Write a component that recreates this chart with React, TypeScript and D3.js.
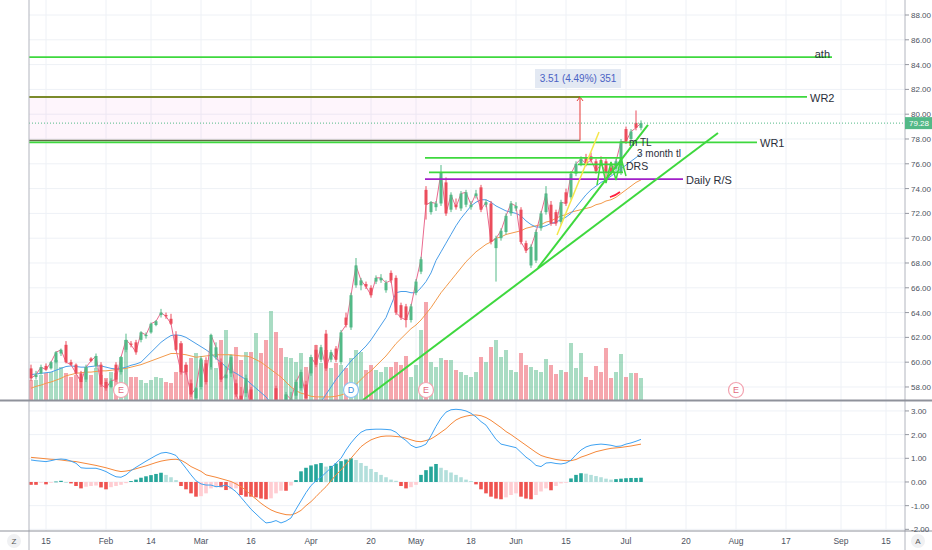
import * as d3 from "d3";

// daily bars, Jan 10 -> Jul 8 (index 0 = first visible bar)
const opens = [
  59.5, 58.8, 59.1, 59.7, 59.5, 60.0, 60.7, 61.4, 60.0, 59.8,
  59.1, 58.6, 60.3, 59.7, 59.8, 58.4, 58.0, 59.8, 59.2, 61.0,
  61.5, 61.6, 61.8, 62.1, 62.4, 63.0, 63.8, 63.8, 63.5, 62.2,
  61.5, 59.8, 58.3, 57.1, 58.0, 59.9, 59.6, 60.4, 60.0, 58.7,
  59.1, 58.3, 57.3, 57.5, 57.8, 55.5, 56.0, 53.5, 52.8, 57.9,
  55.5, 54.3, 56.5, 57.3, 57.9, 58.2, 59.1, 61.0, 60.2, 62.3,
  60.2, 61.1, 60.0, 63.6, 62.8, 66.2, 66.2, 66.3, 66.0, 66.5,
  66.6, 65.8, 67.2, 66.8, 64.6, 64.5, 63.4, 65.6, 67.3, 73.9,
  72.1, 72.5, 72.8, 74.5, 72.3, 72.7, 72.4, 72.7, 72.5, 73.4,
  74.1, 72.7, 72.8, 69.2, 70.0, 70.5, 72.0, 72.4, 72.3, 69.6,
  67.8, 68.2, 70.8, 72.1, 72.7, 72.1, 71.3, 73.7, 73.3, 75.2,
  76.0, 76.5, 76.6, 76.2, 76.3, 76.2, 75.7, 75.6, 75.3, 78.8,
  78.0, 79.3, 78.9,
];
const highs = [
  59.8, 59.3, 59.8, 59.9, 60.1, 60.9, 61.1, 61.7, 60.2, 59.9,
  59.3, 59.8, 60.4, 60.7, 60.0, 58.6, 58.7, 60.0, 60.5, 62.3,
  61.7, 61.8, 62.5, 62.4, 63.2, 63.4, 64.3, 64.0, 63.9, 62.5,
  61.7, 60.0, 58.6, 58.0, 60.5, 60.4, 62.3, 61.6, 60.3, 59.7,
  60.6, 58.6, 58.0, 59.0, 58.0, 56.8, 56.3, 54.5, 55.5, 58.1,
  56.0, 57.6, 57.6, 58.6, 59.4, 58.5, 60.6, 61.4, 61.4, 62.6,
  61.0, 61.3, 62.6, 64.0, 65.6, 68.4, 66.8, 66.5, 66.2, 67.0,
  67.1, 66.6, 67.4, 67.0, 64.8, 64.7, 64.7, 66.7, 68.5, 74.2,
  73.0, 73.0, 75.9, 74.9, 73.7, 73.2, 73.8, 73.9, 73.0, 73.9,
  74.3, 73.1, 73.0, 70.2, 70.8, 72.0, 73.0, 72.9, 72.5, 69.8,
  69.5, 70.7, 72.2, 74.2, 73.0, 72.3, 73.1, 74.0, 75.4, 76.2,
  76.6, 76.8, 76.9, 76.4, 76.6, 76.4, 75.9, 76.4, 78.0, 79.0,
  78.8, 80.3, 79.5,
];
const lows = [
  58.5, 58.6, 59.0, 59.3, 59.4, 59.9, 60.5, 59.9, 59.7, 59.0,
  57.9, 58.4, 60.0, 59.5, 58.0, 57.7, 57.9, 58.4, 59.0, 60.8,
  61.2, 60.6, 61.6, 61.9, 62.3, 62.9, 63.6, 63.5, 63.0, 60.9,
  59.0, 59.0, 57.2, 56.6, 57.8, 58.2, 59.4, 60.2, 58.4, 57.8,
  58.8, 57.2, 56.2, 57.2, 55.5, 54.5, 53.5, 52.0, 52.3, 55.0,
  53.8, 54.0, 55.8, 57.0, 57.7, 57.0, 58.9, 59.6, 60.0, 59.3,
  60.0, 60.0, 59.8, 62.8, 62.6, 66.0, 65.8, 65.9, 65.2, 66.3,
  66.4, 65.6, 66.4, 63.8, 63.4, 62.8, 63.2, 65.4, 67.1, 71.5,
  71.9, 72.2, 72.6, 71.8, 72.1, 72.3, 72.2, 72.5, 72.3, 73.2,
  72.1, 72.5, 69.5, 66.5, 69.8, 70.3, 71.8, 72.2, 69.5, 68.8,
  67.6, 68.0, 70.6, 71.9, 71.0, 71.0, 71.1, 72.6, 73.1, 75.0,
  75.8, 75.8, 76.1, 75.2, 75.8, 74.8, 75.1, 75.4, 75.1, 77.6,
  77.8, 78.7, 78.7,
];
const closes = [
  58.7, 59.0, 59.6, 59.4, 60.0, 60.8, 61.0, 60.0, 59.8, 59.1,
  58.4, 59.6, 60.1, 60.5, 58.2, 57.9, 58.5, 58.6, 60.4, 61.8,
  61.4, 60.8, 62.4, 62.2, 63.1, 63.3, 64.0, 63.7, 63.1, 61.0,
  59.2, 59.2, 57.4, 57.9, 60.3, 58.4, 62.2, 61.2, 58.6, 59.0,
  60.4, 57.4, 56.5, 58.7, 55.8, 56.5, 53.8, 52.5, 55.2, 55.3,
  54.2, 57.4, 57.0, 58.4, 59.2, 57.1, 60.4, 59.8, 61.2, 59.5,
  60.8, 60.2, 62.4, 63.0, 65.4, 67.8, 66.6, 66.1, 65.4, 66.8,
  66.8, 66.4, 66.6, 64.0, 63.6, 63.4, 64.5, 66.5, 68.3, 72.7,
  72.9, 72.8, 75.3, 72.0, 73.5, 72.5, 73.6, 73.7, 72.7, 73.6,
  72.3, 72.9, 69.7, 70.0, 70.6, 71.8, 72.8, 72.6, 69.7, 69.0,
  69.3, 70.5, 72.0, 73.6, 71.2, 71.2, 72.9, 72.8, 75.2, 76.0,
  76.4, 76.0, 76.3, 75.4, 76.0, 75.3, 75.3, 76.2, 77.8, 77.8,
  78.6, 78.9, 79.28,
];
// volume, millions
const volumes = [
  2.0, 2.0, 2.5, 2.7, 2.8, 4.0, 3.3, 2.7, 2.3, 2.5,
  2.3, 3.3, 2.5, 3.2, 2.5, 2.2, 2.8, 2.7, 4.3, 6.0,
  2.3, 2.3, 2.0, 1.7, 2.0, 2.3, 2.2, 1.8, 1.7, 2.8,
  5.7, 3.5, 4.2, 4.7, 4.0, 4.0, 3.3, 3.2, 6.0, 7.0,
  4.5, 5.3, 4.0, 4.8, 4.8, 6.7, 4.7, 6.0, 8.9, 6.8,
  5.2, 4.3, 4.2, 3.8, 4.7, 3.3, 4.3, 5.5, 3.7, 5.0,
  3.2, 3.7, 3.5, 3.2, 4.2, 5.0, 4.8, 3.0, 3.5, 3.0,
  2.8, 3.3, 3.3, 3.8, 3.5, 4.4, 2.3, 3.5, 7.0, 9.8,
  3.8, 3.3, 4.2, 4.0, 4.0, 3.0, 2.8, 2.5, 2.3, 2.8,
  4.3, 3.8, 5.3, 6.0, 4.3, 5.0, 3.0, 2.8, 4.7, 3.5,
  3.3, 3.0, 2.8, 4.1, 3.5, 2.6, 3.0, 2.8, 5.7, 3.2,
  4.7, 2.3, 2.0, 3.4, 2.8, 5.2, 2.2, 2.8, 4.6, 2.3,
  2.7, 2.7, 2.2,
];
// moving averages
const fastMa = [
  59.0, 59.05, 59.1, 59.15, 59.2, 59.35, 59.5, 59.65, 59.7, 59.65,
  59.6, 59.6, 59.65, 59.7, 59.7, 59.6, 59.5, 59.45, 59.5, 59.6,
  59.75, 59.85, 60.0, 60.4, 60.8, 61.2, 61.6, 61.9, 62.15, 62.2,
  62.15, 62.0, 61.75, 61.5, 61.25, 61.0, 60.7, 60.3, 60.0, 59.6,
  59.3, 59.1, 58.85, 58.6, 58.25, 57.9, 57.55, 57.2, 56.7, 56.2,
  55.8, 55.4, 55.2, 55.1, 55.2, 55.4, 55.8, 56.3, 56.8, 57.4,
  58.0, 58.6, 59.1, 59.6, 60.1, 60.5, 60.9, 61.3, 61.8, 62.4,
  63.0, 63.6, 64.6, 65.6, 65.7, 65.7, 65.6, 65.6, 66.0, 66.5,
  67.2, 68.2, 68.9, 69.6, 70.3, 71.0, 71.6, 72.1, 72.6, 72.9,
  73.1, 73.1, 72.9, 72.6, 72.4, 72.2, 72.1, 72.0, 71.8, 71.4,
  71.1, 70.9, 70.9, 71.0, 71.2, 71.3, 71.5, 71.7, 72.0, 72.5,
  73.0, 73.5, 73.9, 74.2, 74.5, 74.7, 75.0, 75.3, 75.6, 75.9,
  76.2, 76.5, 76.8,
];
const slowMa = [
  57.9, 58.05, 58.15, 58.3, 58.4, 58.55, 58.7, 58.9, 59.0, 59.1,
  59.15, 59.2, 59.2, 59.25, 59.3, 59.3, 59.35, 59.4, 59.45, 59.5,
  59.6, 59.7, 59.8, 59.95, 60.1, 60.25, 60.4, 60.55, 60.7, 60.7,
  60.65, 60.6, 60.5, 60.4, 60.45, 60.5, 60.55, 60.6, 60.6, 60.6,
  60.6, 60.55, 60.5, 60.5, 60.4, 60.2, 60.0, 59.7, 59.4, 59.1,
  58.8, 58.4, 58.0, 57.7, 57.5, 57.4, 57.25, 57.2, 57.2, 57.2,
  57.2, 57.25, 57.35, 57.5, 57.8, 58.2, 58.6, 59.0, 59.3, 59.7,
  60.1, 60.5, 61.0, 61.5, 61.9, 62.3, 62.7, 63.0, 63.4, 63.9,
  64.4, 65.0, 65.6, 66.1, 66.6, 67.1, 67.6, 68.1, 68.5, 68.9,
  69.2, 69.5, 69.7, 70.0, 70.1, 70.3, 70.4, 70.5, 70.6, 70.8,
  70.9, 71.0, 71.1, 71.3, 71.4, 71.6, 71.8, 71.9, 72.1, 72.2,
  72.3, 72.4, 72.5, 72.7, 72.8, 73.0, 73.1, 73.3, 73.6, 73.9,
  74.2, 74.5, 74.7,
];
// MACD pane
const macdLine = [
  0.93, 0.9, 0.88, 0.86, 0.9, 0.95, 0.97, 0.95, 0.88, 0.79,
  0.6, 0.58, 0.58, 0.58, 0.52, 0.44, 0.32, 0.22, 0.2, 0.3,
  0.48, 0.62, 0.75, 0.88, 1.0, 1.12, 1.22, 1.25, 1.2, 1.12,
  0.85, 0.58, 0.3, 0.05, -0.08, -0.13, -0.13, -0.2, -0.18, -0.13,
  -0.25, -0.41, -0.65, -0.9, -1.15, -1.35, -1.55, -1.73, -1.7, -1.63,
  -1.73, -1.65, -1.52, -1.15, -0.8, -0.45, -0.15, 0.05, 0.2, 0.4,
  0.6, 0.8, 1.0, 1.35, 1.65, 1.9, 2.1, 2.2, 2.22, 2.23,
  2.23, 2.22, 2.2, 2.1, 1.9, 1.75, 1.55, 1.45, 1.5, 1.6,
  1.95, 2.35, 2.7, 2.95, 3.05, 3.07, 3.05, 3.0, 2.9, 2.75,
  2.55, 2.4, 2.1, 1.8, 1.6, 1.55, 1.5, 1.45, 1.25, 1.05,
  0.9, 0.7, 0.65, 0.8, 0.82, 0.78, 0.76, 0.8, 0.92, 1.15,
  1.35, 1.48, 1.55, 1.58, 1.6, 1.58, 1.55, 1.5, 1.52, 1.6,
  1.65, 1.72, 1.8,
];
const signalLine = [
  1.04, 1.02, 1.0, 0.98, 0.96, 0.95, 0.93, 0.9, 0.88, 0.86,
  0.82, 0.78, 0.74, 0.7, 0.65, 0.6, 0.54, 0.48, 0.44, 0.46,
  0.5, 0.56, 0.62, 0.68, 0.75, 0.82, 0.88, 0.92, 0.95, 0.96,
  0.92, 0.8, 0.65, 0.55, 0.45, 0.3, 0.25, 0.2, 0.14, 0.08,
  0.02, -0.08, -0.2, -0.35, -0.55, -0.72, -0.9, -1.05, -1.18, -1.27,
  -1.33, -1.38, -1.39, -1.32, -1.2, -1.0, -0.83, -0.62, -0.4, -0.2,
  0.05, 0.3, 0.51, 0.75, 1.0, 1.25, 1.49, 1.65, 1.78, 1.86,
  1.92, 1.94, 1.94, 1.92, 1.9, 1.85, 1.78, 1.72, 1.7, 1.75,
  1.82, 1.95, 2.1, 2.25, 2.45, 2.62, 2.72, 2.78, 2.82, 2.83,
  2.8, 2.72, 2.6, 2.45, 2.3, 2.13, 2.0, 1.85, 1.7, 1.55,
  1.4, 1.25, 1.12, 1.05, 1.0, 0.95, 0.92, 0.9, 0.9, 0.95,
  1.05, 1.12, 1.2, 1.28, 1.33, 1.38, 1.42, 1.44, 1.46, 1.49,
  1.52, 1.56, 1.6,
];
const macdHist = [
  -0.12, -0.12, -0.03, -0.1, -0.02, 0.02, 0.05, 0.0, -0.06, -0.17,
  -0.27, -0.2, -0.17, -0.15, -0.23, -0.31, -0.22, -0.17, -0.12, -0.05,
  0.04, 0.1, 0.18, 0.24, 0.29, 0.34, 0.39, 0.3, 0.2, 0.08,
  -0.17, -0.31, -0.48, -0.62, -0.6, -0.48, -0.27, -0.22, -0.22, -0.34,
  -0.3, -0.27, -0.55, -0.62, -0.62, -0.65, -0.7, -0.73, -0.69, -0.48,
  -0.37, -0.37, -0.15, 0.08, 0.45, 0.6, 0.7, 0.75, 0.8, 0.65,
  0.68, 0.78, 0.88, 0.95, 1.0, 0.93, 0.8, 0.68, 0.55, 0.42,
  0.3, 0.2, 0.1, 0.05, -0.17, -0.27, -0.22, -0.12, 0.3, 0.5,
  0.65, 0.76, 0.6, 0.5, 0.4, 0.3, 0.2, 0.1, 0.04, -0.1,
  -0.31, -0.48, -0.62, -0.7, -0.73, -0.65, -0.55, -0.48, -0.62, -0.7,
  -0.73, -0.55, -0.4, -0.27, -0.35, -0.17, -0.06, -0.03, 0.15, 0.3,
  0.37, 0.35, 0.3, 0.25, 0.2, 0.14, 0.1, 0.12, 0.14, 0.16,
  0.17, 0.17, 0.18,
];

const timeTickIdx = [3, 15, 24, 34, 44, 56, 68, 77, 88, 97, 107, 119, 131, 141, 151, 162, 171];
const timeTickLabels = ["15", "Feb", "14", "Mar", "16", "Apr", "20", "May", "18", "Jun", "15", "Jul", "20", "Aug", "17", "Sep", "15"];
const priceTicks = [58, 60, 62, 64, 66, 68, 70, 72, 74, 76, 78, 80, 82, 84, 86, 88];
const macdTicks = [3, 2, 1, 0, -1, -2];

// user drawings: horizontal levels (bar index range, price)
const levelNames = ["ath", "WR2", "WR1", "", "", "Daily R/S", "DRS"];
const levelPrices = [84.6, 81.39, 77.72, 76.47, 75.3, 74.77, 75.95];
const levelFrom = [-2, 109.8, -2, 78.8, 79.6, 78.8, 109.4];
const levelTo = [160.2, 155.2, 145.2, 118.2, 118.4, 130.4, 118.4];
const levelKind = ["green", "green", "green", "green", "green", "purple", "green"];

// trend lines: start / end (bar index, price)
const trendFromIdx = [66.4, 101.4, 105.2];
const trendFromPrice = [56.95, 67.6, 70.26];
const trendToIdx = [137.4, 123.4, 113.6];
const trendToPrice = [78.48, 79.13, 78.56];
const trendKind = ["green", "green", "yellow"];

// small flag zigzag near the July breakout
const flagIdx = [113.2, 114, 115, 116, 117, 118, 119];
const flagPrice = [74.29, 76.31, 74.45, 76.15, 74.69, 76.47, 75.02];
const arcIdx = [115.8, 116.8, 117.8];
const arcPrice = [73.32, 73.45, 73.73];

// price range measure
const rangeIdx = 109.8;
const rangeTop = 81.39;
const rangeBottom = 77.88;
const rangeText = "3.51 (4.49%) 351";
const lastPrice = 79.28;

const noteTexts = ["m TL", "3 month tl"];
const noteIdx = [119.6, 121.2];
const notePrice = [77.42, 76.55];

const eventIdx = [18, 64, 79, 141];
const eventKind = ["E", "D", "E", "E"];

const UP = "#53b987";
const DOWN = "#eb4d5c";
const LEVEL_COLORS: Record<string, string> = { green: "#3ed83e", purple: "#a11fc9", yellow: "#f4e64a" };
const FONT = "'Liberation Sans', Arial, sans-serif";

export default function App() {
  const W = 932;
  const H = 550;
  const left = 29;
  const right = 905;
  const mainBottom = 400;
  const macdTop = 401;
  const macdBottom = 531;

  const x = d3.scaleLinear().domain([0, 174.8]).range([31, right]);
  const yP = d3.scaleLinear().domain([56.95, 89.21]).range([mainBottom, 0]);
  const yV = d3.scaleLinear().domain([0, 10]).range([mainBottom, 300]);
  const yM = d3.scaleLinear().domain([-2.07, 3.42]).range([macdBottom, macdTop]);

  const priceLine = d3.line<number>().x((_, i) => x(i)).y((v) => yP(v));
  const macdPath = d3.line<number>().x((_, i) => x(i)).y((v) => yM(v));
  const flagPath = d3.line<number>().x((_, i) => x(flagIdx[i])).y((v) => yP(v));
  const arcPath = d3
    .line<number>()
    .x((_, i) => x(arcIdx[i]))
    .y((v) => yP(v))
    .curve(d3.curveBasis);

  const bodyW = 3;
  const volW = 4;

  const histColor = (v: number, i: number) => {
    const prev = i > 0 ? macdHist[i - 1] : 0;
    if (v >= 0) return v >= prev ? "#26a69a" : "#b2dfdb";
    return v <= prev ? "#ef5350" : "#ffcdd2";
  };

  const rx = x(rangeIdx);

  return (
    <div style={{ position: "absolute", left: 0, top: 0 }}>
      <svg width={W} height={H} style={{ display: "block", background: "#fff", fontFamily: FONT }}>
        <defs>
          <clipPath id="mainClip">
            <rect x={left} y={0} width={right - left} height={mainBottom} />
          </clipPath>
          <clipPath id="macdClip">
            <rect x={left} y={macdTop} width={right - left} height={macdBottom - macdTop} />
          </clipPath>
        </defs>

        {/* grid */}
        <g stroke="#eef1f6" strokeWidth={1}>
          {timeTickIdx.map((t, i) => (
            <line key={"vg" + i} x1={x(t)} x2={x(t)} y1={0} y2={macdBottom} />
          ))}
          {priceTicks.map((p) => (
            <line key={"hg" + p} x1={left} x2={right} y1={yP(p)} y2={yP(p)} />
          ))}
          {macdTicks.map((m) => (
            <line key={"mg" + m} x1={left} x2={right} y1={yM(m)} y2={yM(m)} />
          ))}
        </g>

        {/* main pane */}
        <g clipPath="url(#mainClip)">
          {volumes.map((v, i) => (
            <rect
              key={"v" + i}
              x={x(i) - volW / 2}
              y={yV(v)}
              width={volW}
              height={mainBottom - yV(v)}
              fill={closes[i] >= opens[i] ? UP : DOWN}
              opacity={0.5}
            />
          ))}

          {/* price range box */}
          <rect
            x={left - 5}
            y={yP(rangeTop)}
            width={rx - left + 5}
            height={yP(rangeBottom) - yP(rangeTop)}
            fill="#f050c8"
            opacity={0.06}
          />

          <path d={priceLine(slowMa) ?? ""} fill="none" stroke="#f39a4b" strokeWidth={1} />
          <path d={priceLine(fastMa) ?? ""} fill="none" stroke="#4a9ee8" strokeWidth={1} />
          <path d={priceLine(closes) ?? ""} fill="none" stroke="#ea6a8f" strokeWidth={1} />

          {closes.map((c, i) => {
            const o = opens[i];
            const col = c >= o ? UP : DOWN;
            const top = yP(Math.max(o, c));
            const h = Math.max(1, Math.abs(yP(o) - yP(c)));
            return (
              <g key={"c" + i}>
                <line x1={x(i)} x2={x(i)} y1={yP(highs[i])} y2={yP(lows[i])} stroke={col} strokeWidth={1} />
                <rect x={x(i) - bodyW / 2} y={top} width={bodyW} height={h} fill={col} />
              </g>
            );
          })}

          {/* last price line */}
          <line
            x1={left}
            x2={right}
            y1={yP(lastPrice)}
            y2={yP(lastPrice)}
            stroke={UP}
            strokeWidth={1}
            strokeDasharray="1,2"
          />

          {/* range box edges and measure */}
          <line x1={left} x2={rx} y1={yP(rangeTop)} y2={yP(rangeTop)} stroke="#7b8a2a" strokeWidth={2} />
          <line x1={left} x2={rx} y1={yP(rangeBottom)} y2={yP(rangeBottom)} stroke="#5f6b44" strokeWidth={1.5} />
          <line x1={rx} x2={rx} y1={yP(rangeBottom)} y2={yP(rangeTop)} stroke="#e53935" strokeWidth={1} />
          <path
            d={`M${rx - 3},${yP(rangeTop) + 4}L${rx},${yP(rangeTop)}L${rx + 3},${yP(rangeTop) + 4}`}
            fill="none"
            stroke="#e53935"
            strokeWidth={1}
          />

          {/* horizontal levels */}
          {levelPrices.map((p, i) => (
            <line
              key={"lv" + i}
              x1={x(levelFrom[i])}
              x2={x(levelTo[i])}
              y1={yP(p)}
              y2={yP(p)}
              stroke={LEVEL_COLORS[levelKind[i]]}
              strokeWidth={1.8}
            />
          ))}

          {/* trend lines */}
          {trendFromIdx.map((t, i) => (
            <line
              key={"tr" + i}
              x1={x(t)}
              y1={yP(trendFromPrice[i])}
              x2={x(trendToIdx[i])}
              y2={yP(trendToPrice[i])}
              stroke={LEVEL_COLORS[trendKind[i]]}
              strokeWidth={trendKind[i] === "yellow" ? 1.5 : 2}
            />
          ))}
          <path d={flagPath(flagPrice) ?? ""} fill="none" stroke={LEVEL_COLORS.green} strokeWidth={1.5} />
          <path d={arcPath(arcPrice) ?? ""} fill="none" stroke="#ff1f3d" strokeWidth={1.8} />

          {/* earnings / dividend markers */}
          {eventIdx.map((e, i) => {
            const isE = eventKind[i] === "E";
            return (
              <g key={"ev" + i}>
                <circle
                  cx={x(e)}
                  cy={390}
                  r={7.5}
                  fill="#fff"
                  stroke={isE ? "#f3a3b0" : "#8cc2f2"}
                  strokeWidth={1.2}
                />
                <text
                  x={x(e)}
                  y={393.3}
                  textAnchor="middle"
                  fontSize={9}
                  fill={isE ? "#e26b80" : "#3b8fe0"}
                >
                  {eventKind[i]}
                </text>
              </g>
            );
          })}
        </g>

        {/* level labels */}
        {levelNames.map((n, i) =>
          n === "" ? null : n === "ath" ? (
            <text key={"ln" + i} x={x(levelTo[i]) - 2} y={yP(levelPrices[i]) + 1} textAnchor="end" fontSize={11} fill="#2a2e39">
              {n}
            </text>
          ) : (
            <text
              key={"ln" + i}
              x={x(levelTo[i]) + 3}
              y={yP(levelPrices[i]) + (n === "DRS" ? 6 : 5)}
              fontSize={n === "DRS" ? 10.5 : 11}
              fill="#2a2e39"
            >
              {n}
            </text>
          )
        )}
        {noteTexts.map((n, i) => (
          <text key={"nt" + i} x={x(noteIdx[i])} y={yP(notePrice[i])} fontSize={10} fill="#2a2e39">
            {n}
          </text>
        ))}

        {/* measure label */}
        <rect x={rx - 45} y={yP(82.84) - 10} width={86} height={19} fill="#e3e9f3" />
        <text x={rx - 2} y={yP(82.84) + 3.5} textAnchor="middle" fontSize={10} fill="#4a62c4">
          {rangeText}
        </text>

        {/* MACD pane */}
        <g clipPath="url(#macdClip)">
          {macdHist.map((v, i) => (
            <rect
              key={"h" + i}
              x={x(i) - 1.8}
              y={Math.min(yM(v), yM(0))}
              width={3.6}
              height={Math.max(0.8, Math.abs(yM(v) - yM(0)))}
              fill={histColor(v, i)}
            />
          ))}
          <path d={macdPath(signalLine) ?? ""} fill="none" stroke="#f5883a" strokeWidth={1} />
          <path d={macdPath(macdLine) ?? ""} fill="none" stroke="#3ea2f2" strokeWidth={1} />
        </g>

        {/* frame */}
        <line x1={left} x2={left} y1={0} y2={H} stroke="#b2b5be" strokeWidth={1} />
        <line x1={right} x2={right} y1={0} y2={H} stroke="#b2b5be" strokeWidth={1} />
        <line x1={0} x2={W} y1={400.5} y2={400.5} stroke="#8f929b" strokeWidth={2} />
        <line x1={0} x2={W} y1={macdBottom} y2={macdBottom} stroke="#8f929b" strokeWidth={1} />

        {/* right axis */}
        {priceTicks.map((p) => (
          <g key={"pt" + p}>
            <line x1={right} x2={right + 4} y1={yP(p)} y2={yP(p)} stroke="#9598a1" />
            <text x={right + 6} y={yP(p) + 3} fontSize={8} fill="#4c525e">
              {p.toFixed(2)}
            </text>
          </g>
        ))}
        {macdTicks.map((m) => (
          <g key={"mt" + m}>
            <line x1={right} x2={right + 4} y1={yM(m)} y2={yM(m)} stroke="#9598a1" />
            <text x={right + 6} y={yM(m) + 3} fontSize={8} fill="#4c525e">
              {m.toFixed(2)}
            </text>
          </g>
        ))}
        <rect x={right} y={yP(lastPrice) - 6} width={W - right} height={12} fill={UP} />
        <text x={right + 4} y={yP(lastPrice) + 3} fontSize={8} fill="#fff">
          {lastPrice.toFixed(2)}
        </text>

        {/* time axis */}
        {timeTickIdx.map((t, i) => (
          <text key={"tt" + i} x={x(t)} y={544} textAnchor="middle" fontSize={8.5} fill="#4c525e">
            {timeTickLabels[i]}
          </text>
        ))}
        <circle cx={14} cy={541} r={7} fill="#f0f1f3" />
        <text x={14} y={544} textAnchor="middle" fontSize={8} fill="#555">
          Z
        </text>
        <circle cx={918} cy={541} r={7} fill="#f0f1f3" />
        <text x={918} y={544} textAnchor="middle" fontSize={8} fill="#555">
          A
        </text>
      </svg>
    </div>
  );
}
